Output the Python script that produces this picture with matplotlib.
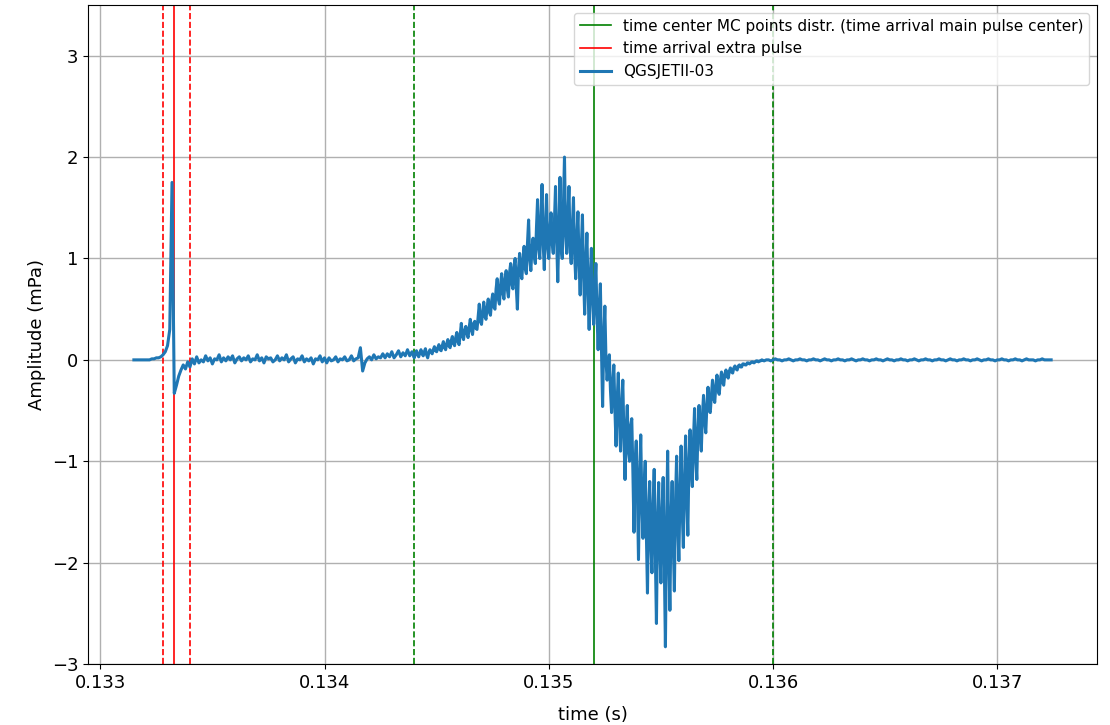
import numpy as np
import matplotlib
matplotlib.use("Agg")
import matplotlib.pyplot as plt

# trace is stored in three pieces: coarse (10 us) before and after the
# main pulse, fine (5 us) across the main pulse
t0_early = 0.13315
t0_pulse = 0.13440
t0_tail = 0.13595
dt_coarse = 1e-5
dt_fine = 5e-6

amp_pre = [0.0, 0.0, 0.0, 0.0, 0.0, 0.0, 0.0, 0.0, 0.01, 0.01]

# extra pulse (sharp spike + undershoot)
amp_spike = [0.02, 0.02, 0.03, 0.05, 0.08, 0.14, 0.3, 1.75, -0.33, -0.25, -0.16]

amp_baseline = [
    -0.1, -0.05, -0.09, -0.02, -0.07, 0.01, -0.04, 0.03, -0.03, 0.0,
    -0.02, 0.04, -0.01, 0.02, -0.04, 0.01, 0.0, 0.05, -0.02, 0.02,
    -0.01, 0.03, 0.0, 0.04, -0.03, 0.01, 0.03, -0.01, 0.02, 0.0,
    0.04, -0.02, 0.01, 0.0, 0.05, -0.01, 0.02, -0.03, 0.03, 0.01,
    0.02, -0.02, 0.0, 0.04, -0.01, 0.02, 0.0, 0.05, -0.02, 0.01,
    0.03, -0.03, 0.01, 0.0, 0.04, -0.02, 0.01, -0.01, 0.02, -0.04,
    0.01, 0.0, 0.04, -0.02, 0.02, -0.03, 0.02, -0.01, 0.0, 0.03,
    -0.02, 0.01, 0.0, 0.03, -0.01, 0.0, 0.04, -0.01, 0.01, 0.02,
    0.12, -0.11, -0.03, 0.01, 0.03, 0.0, 0.05, 0.01, 0.03, 0.02,
    0.06, 0.02, 0.06, 0.03, 0.08, 0.02, 0.05, 0.09, 0.03, 0.07,
    0.04, 0.1, 0.04, 0.08,
]

# main pulse, positive lobe
amp_rise = [
    0.02, 0.06, 0.09, 0.05, 0.03, 0.07, 0.1, 0.06, 0.04, 0.08,
    0.11, 0.05, 0.02, 0.07, 0.1, 0.08, 0.06, 0.1, 0.13, 0.09,
    0.08, 0.12, 0.15, 0.1, 0.09, 0.14, 0.18, 0.12, 0.1, 0.16,
    0.2, 0.14, 0.12, 0.19, 0.23, 0.16, 0.14, 0.22, 0.27, 0.18,
    0.15, 0.25, 0.36, 0.24, 0.2, 0.29, 0.33, 0.26, 0.22, 0.32,
    0.4, 0.3, 0.25, 0.36, 0.38, 0.31, 0.3, 0.42, 0.55, 0.38,
    0.35, 0.47, 0.57, 0.43, 0.4, 0.52, 0.6, 0.47, 0.44, 0.58,
    0.65, 0.52, 0.5, 0.7, 0.8, 0.6, 0.55, 0.74, 0.85, 0.66,
    0.6, 0.8, 0.88, 0.7, 0.62, 0.86, 0.95, 0.75, 0.7, 0.92,
    1.0, 0.72, 0.5, 0.9, 1.05, 0.85, 0.8, 1.0, 1.12, 0.9,
    0.85, 1.15, 1.38, 1.0, 0.88, 1.1, 1.2, 1.02, 0.95, 1.3,
    1.58, 1.1, 1.0, 1.4, 1.73, 1.15, 0.89, 1.3, 1.63, 1.12,
    1.0, 1.28, 1.45, 1.15, 1.05, 1.35, 1.71, 1.2, 0.77, 1.25,
    1.8, 1.1, 1.0, 1.5, 2.0, 1.25, 1.05, 1.4, 1.71, 1.1,
    0.95, 1.3, 1.6, 1.05, 0.8, 1.2, 1.46, 0.95, 0.64, 1.1,
    1.43, 0.85, 0.45, 0.95, 1.25, 0.7, 0.3, 0.8,
]

# main pulse, negative lobe and recovery
amp_fall = [
    1.1, 0.6, 0.35, 0.7, 0.95, 0.45, 0.1, 0.5, 0.75, 0.1,
    -0.46, 0.2, 0.53, 0.0, -0.2, -0.05, 0.05, -0.3, -0.52, -0.25,
    -0.05, -0.5, -0.85, -0.4, -0.13, -0.6, -0.9, -0.45, -0.2, -0.75,
    -1.18, -0.7, -0.45, -0.9, -1.0, -0.65, -0.58, -1.1, -1.7, -1.0,
    -0.8, -1.3, -1.97, -1.2, -0.74, -1.4, -1.76, -1.25, -1.0, -1.7,
    -2.3, -1.5, -1.2, -1.8, -2.1, -1.45, -1.08, -1.9, -2.6, -1.6,
    -1.21, -1.85, -2.2, -1.5, -1.16, -2.0, -2.83, -1.7, -0.9, -1.9,
    -2.47, -1.55, -1.2, -1.8, -2.28, -1.4, -0.95, -1.6, -1.98, -1.3,
    -0.85, -1.5, -1.85, -1.2, -0.75, -1.35, -1.73, -1.0, -0.69, -1.1,
    -1.25, -0.8, -0.48, -0.95, -1.18, -0.7, -0.45, -0.75, -0.9, -0.55,
    -0.35, -0.6, -0.72, -0.45, -0.27, -0.5, -0.52, -0.35, -0.2, -0.38,
    -0.42, -0.25, -0.15, -0.3, -0.34, -0.2, -0.12, -0.22, -0.25, -0.14,
    -0.1, -0.16, -0.18, -0.11, -0.08, -0.12, -0.13, -0.08, -0.06, -0.09,
    -0.1, -0.06, -0.05, -0.07, -0.07, -0.04, -0.04, -0.05, -0.05, -0.03,
    -0.03, -0.04, -0.03, -0.02, -0.02, -0.03, -0.02, -0.01, -0.01, -0.02,
    -0.01, -0.01,
]

amp_tail = [
    0.0, -0.01, 0.0, 0.0, -0.01, 0.0, 0.01, 0.0, 0.0, -0.01,
    0.0, 0.0, 0.01, 0.0, -0.01, 0.0, 0.0, 0.01, 0.0, 0.0,
    -0.01, 0.0, 0.0, 0.01, 0.0, 0.0, -0.01, 0.0, 0.01, 0.0,
    0.0, -0.01, 0.0, 0.0, 0.01, 0.0, 0.0, -0.01, 0.0, 0.0,
    0.01, 0.0, -0.01, 0.0, 0.0, 0.01, 0.0, 0.0, -0.01, 0.0,
    0.0, 0.01, 0.0, 0.0, -0.01, 0.0, 0.01, 0.0, 0.0, -0.01,
    0.0, 0.0, 0.01, 0.0, 0.0, -0.01, 0.0, 0.0, 0.01, 0.0,
    -0.01, 0.0, 0.0, 0.01, 0.0, 0.0, -0.01, 0.0, 0.0, 0.01,
    0.0, 0.0, -0.01, 0.0, 0.01, 0.0, 0.0, -0.01, 0.0, 0.0,
    0.01, 0.0, 0.0, -0.01, 0.0, 0.0, 0.01, 0.0, -0.01, 0.0,
    0.0, 0.01, 0.0, 0.0, -0.01, 0.0, 0.0, 0.01, 0.0, 0.0,
    -0.01, 0.0, 0.0, 0.01, 0.0, 0.0, -0.01, 0.0, 0.01, 0.0,
    0.0, 0.0, -0.01, 0.0, 0.0, 0.01, 0.0, 0.0, 0.0, 0.0,
]

# arrival times (s)
t_extra = 0.13333
t_extra_band = [0.13328, 0.13340]
t_main = 0.1352
t_main_band = [0.1344, 0.1360]

label_main = "time center MC points distr. (time arrival main pulse center)"
label_extra = "time arrival extra pulse"
label_trace = "QGSJETII-03"

early = np.array(amp_pre + amp_spike + amp_baseline)
pulse = np.array(amp_rise + amp_fall)
tail = np.array(amp_tail)
t = np.concatenate([
    t0_early + dt_coarse * np.arange(len(early)),
    t0_pulse + dt_fine * np.arange(len(pulse)),
    t0_tail + dt_coarse * np.arange(len(tail)),
])
amp = np.concatenate([early, pulse, tail])

fig = plt.figure(figsize=(11.1, 7.25), dpi=100)
ax = fig.add_axes([0.0793, 0.0841, 0.909, 0.909])

ax.axvline(t_main, color="green", linewidth=1.2, label=label_main)
for tb in t_main_band:
    ax.axvline(tb, color="green", linestyle="--", linewidth=1.2)
ax.axvline(t_extra, color="red", linewidth=1.2, label=label_extra)
for tb in t_extra_band:
    ax.axvline(tb, color="red", linestyle="--", linewidth=1.2)

ax.plot(t, amp, color="#1f77b4", linewidth=2.2, label=label_trace)

ax.set_ylim(-3, 3.5)
ax.set_yticks([-3, -2, -1, 0, 1, 2, 3])
ax.set_xticks([0.133, 0.134, 0.135, 0.136, 0.137])
ax.tick_params(labelsize=13)
ax.grid(True, color="#b0b0b0", linewidth=1)
ax.set_axisbelow(True)
ax.set_xlabel("time (s)", fontsize=13, labelpad=10)
ax.set_ylabel("Amplitude (mPa)", fontsize=13)
ax.legend(loc="upper right", fontsize=11)

fig.savefig("out.png", dpi=100)
